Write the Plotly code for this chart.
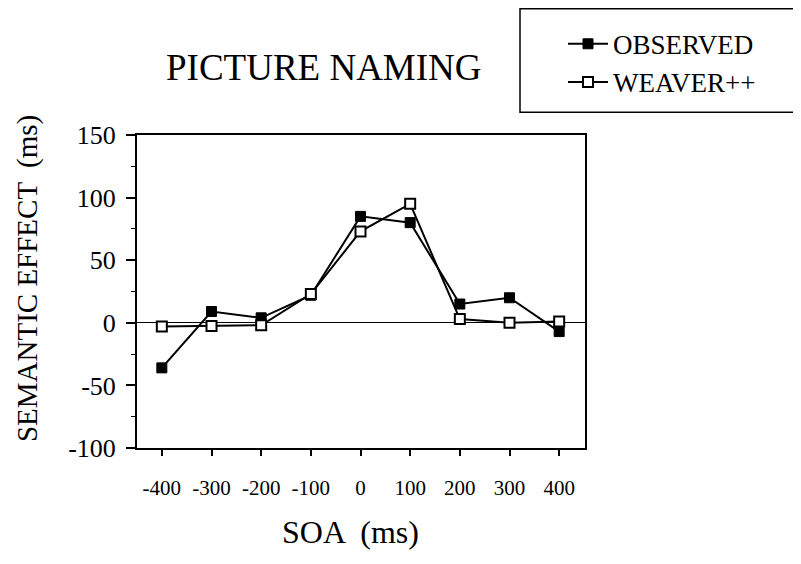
import plotly.graph_objects as go

soa = [-400, -300, -200, -100, 0, 100, 200, 300, 400]
observed = [-36, 9, 4, 22, 85, 80, 15, 20, -7]
weaver = [-3, -2.5, -2, 23, 73, 95, 3, 0, 1]
x_ticks = [-400, -300, -200, -100, 0, 100, 200, 300, 400]
y_ticks = [-100, -50, 0, 50, 100, 150]

FONT = "Liberation Serif, Times New Roman, serif"

# page offset (body margin) compensation
OFF = 8
# target plot area in page pixels: x 137..585, y 133..448
L, R, T, B = 137 - OFF, 585 - OFF, 133 - OFF, 448 - OFF
W, H = 801, 564
def px(x):
    return (x - OFF - L) / (R - L)
def py(y):
    return (B - (y - OFF)) / (B - T)

fig = go.Figure()
fig.add_trace(go.Scatter(
    x=soa, y=observed, name="OBSERVED", mode="lines+markers",
    line=dict(color="black", width=2),
    marker=dict(symbol="square", size=10, color="black", line=dict(color="black", width=1)),
))
fig.add_trace(go.Scatter(
    x=soa, y=weaver, name="WEAVER++", mode="lines+markers",
    line=dict(color="black", width=2),
    marker=dict(symbol="square", size=10, color="white", line=dict(color="black", width=2)),
))

fig.update_layout(
    width=W, height=H,
    margin=dict(l=L, r=W - R, t=T, b=H - B, pad=0),
    paper_bgcolor="white", plot_bgcolor="white",
    font=dict(family=FONT, color="black"),
    showlegend=True,
    legend=dict(
        x=px(563), y=py(17), xanchor="left", yanchor="top",
        font=dict(family=FONT, size=27, color="black"),
        bgcolor="rgba(0,0,0,0)", borderwidth=0,
        itemwidth=40, tracegroupgap=0,
    ),
    xaxis=dict(
        range=[-450, 452], tickmode="array", tickvals=x_ticks,
        ticktext=[str(v) for v in x_ticks],
        showgrid=False, zeroline=False,
        showline=True, linecolor="black", linewidth=2, mirror=True,
        ticks="outside", ticklen=6, tickwidth=1.5, tickcolor="black",
        tickfont=dict(family=FONT, size=21, color="black"),
        ticklabelstandoff=14,
    ),
    yaxis=dict(
        range=[-100, 150], tickmode="array", tickvals=y_ticks,
        ticktext=[str(v) for v in y_ticks],
        showgrid=False,
        zeroline=True, zerolinecolor="black", zerolinewidth=1.2,
        showline=True, linecolor="black", linewidth=2, mirror=True,
        ticks="outside", ticklen=9, tickwidth=1.5, tickcolor="black",
        tickfont=dict(family=FONT, size=26, color="black"),
        ticklabelstandoff=5,
        minor=dict(dtick=25, tick0=0, ticks="outside", ticklen=4, tickcolor="black", tickwidth=1),
    ),
    shapes=[dict(
        type="rect", xref="paper", yref="paper",
        x0=px(520), x1=px(799), y0=py(110), y1=py(6),
        line=dict(color="black", width=1.5), fillcolor="rgba(0,0,0,0)",
    )],
    annotations=[
        dict(text="PICTURE NAMING", xref="paper", yref="paper",
             x=px(324), y=py(65), showarrow=False, xanchor="center", yanchor="middle",
             font=dict(family=FONT, size=37, color="black")),
        dict(text="SOA  (ms)", xref="paper", yref="paper",
             x=px(350), y=py(533), showarrow=False, xanchor="center", yanchor="middle",
             font=dict(family=FONT, size=32, color="black")),
        dict(text="SEMANTIC EFFECT  (ms)", xref="paper", yref="paper",
             x=px(27), y=py(278), showarrow=False, xanchor="center", yanchor="middle",
             textangle=-90,
             font=dict(family=FONT, size=29, color="black")),
    ],
)

fig.write_html("out.html")
